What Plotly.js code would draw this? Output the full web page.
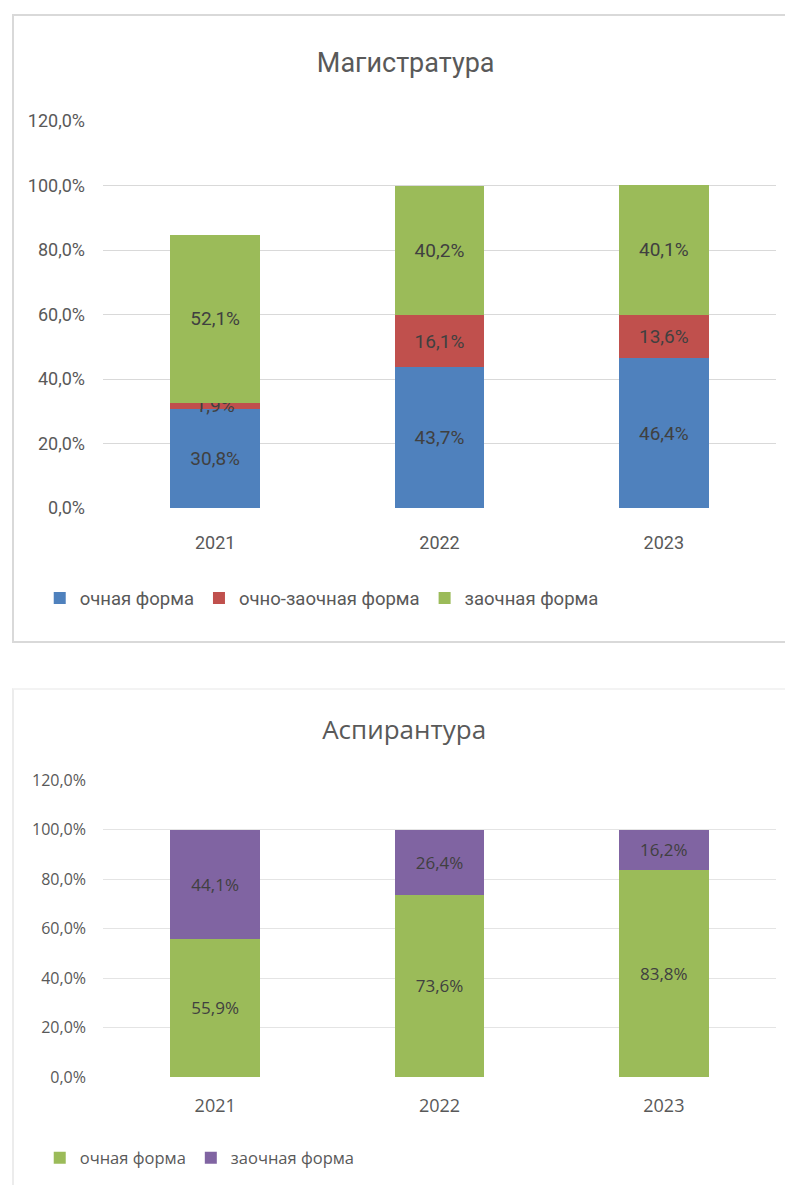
<!DOCTYPE html>
<html>
<head>
<meta charset="utf-8">
<script src="https://cdn.plot.ly/plotly-3.0.1.min.js"></script>
<style>
  html, body { margin:0; padding:0; background:#fff; }
  body { width:785px; height:1185px; overflow:hidden; position:relative; }
  #box1 { position:absolute; left:12px; top:14px; width:790px; height:625px; border:2px solid #d9d9d9; border-right:none; }
  #box2 { position:absolute; left:12px; top:688px; width:790px; height:520px; border:2px solid #ececec; border-right:none; border-top-color:#f3f3f3; }
  #chart1 { position:absolute; left:0; top:0; width:771px; height:625px; }
  #chart2 { position:absolute; left:0; top:0; width:771px; height:495px; }
</style>
</head>
<body>
<div id="box1"><div id="chart1"></div></div>
<div id="box2"><div id="chart2"></div></div>
<script>
// ---- Data: Магистратура ----
const years = ['2021', '2022', '2023'];
const magSeriesNames = ['очная форма', 'очно-заочная форма', 'заочная форма'];
const magFullTime = [30.8, 43.7, 46.4];
const magPartTime = [1.9, 16.1, 13.6];
const magExtramural = [52.1, 40.2, 40.1];

// ---- Data: Аспирантура ----
const aspSeriesNames = ['очная форма', 'заочная форма'];
const aspFullTime = [55.9, 73.6, 83.8];
const aspExtramural = [44.1, 26.4, 16.2];

const yTicks = [0, 20, 40, 60, 80, 100, 120];
const yTickText = yTicks.map(v => v.toFixed(1).replace('.', ',') + '%');

const BLUE = '#4F81BD', RED = '#C0504D', GREEN = '#9BBB59', PURPLE = '#8064A2';
const NARROW = 'Roboto, "Liberation Sans Narrow", sans-serif';
const WIDE = '"Open Sans", "Noto Sans", sans-serif';

function barTrace(name, ys, color, font, size) {
  return {
    type: 'bar', name: name, x: years, y: ys,
    marker: { color: color, line: { width: 0 } },
    texttemplate: '%{y:.1f}%', textposition: 'inside',
    insidetextanchor: 'middle', textangle: 0, constraintext: 'none',
    textfont: { family: font, size: size, color: '#404040' },
    hoverinfo: 'skip'
  };
}

const cfg = { displayModeBar: false, staticPlot: true };

// Chart 1
const traces1 = [
  barTrace(magSeriesNames[0], magFullTime, BLUE, NARROW, 19),
  barTrace(magSeriesNames[1], magPartTime, RED, NARROW, 19),
  barTrace(magSeriesNames[2], magExtramural, GREEN, NARROW, 19)
];
const layout1 = {
  width: 771, height: 625,
  margin: { l: 89, r: 9, t: 105, b: 133 },
  paper_bgcolor: 'rgba(0,0,0,0)', plot_bgcolor: 'rgba(0,0,0,0)',
  barmode: 'stack', bargap: 0.6,
  separators: ', ',
  font: { family: NARROW, color: '#595959', size: 18 },
  title: { text: 'Магистратура', font: { family: NARROW, size: 27, color: '#595959' },
           x: 0.508, xref: 'container', xanchor: 'center', y: 0.925, yref: 'container', yanchor: 'middle' },
  xaxis: { type: 'category', showgrid: false, zeroline: false, showline: false, ticks: '',
           tickfont: { family: NARROW, size: 18, color: '#595959' }, ticklabelstandoff: 22 },
  yaxis: { range: [0, 120], tickmode: 'array', tickvals: yTicks, ticktext: yTickText,
           showgrid: true, gridcolor: '#d9d9d9', gridwidth: 1, zeroline: false, showline: false, ticks: '',
           tickfont: { family: NARROW, size: 18, color: '#595959' }, ticklabelstandoff: 17 },
  showlegend: true,
  legend: { orientation: 'h', x: -0.094, xanchor: 'left', y: -0.185, yanchor: 'top',
            font: { family: NARROW, size: 18.5, color: '#595959' }, traceorder: 'normal', itemwidth: 30 }
};
Plotly.newPlot('chart1', traces1, layout1, cfg);

// Chart 2
const traces2 = [
  barTrace(aspSeriesNames[0], aspFullTime, GREEN, WIDE, 17),
  barTrace(aspSeriesNames[1], aspExtramural, PURPLE, WIDE, 17)
];
const layout2 = {
  width: 771, height: 495,
  margin: { l: 89, r: 9, t: 90, b: 108 },
  paper_bgcolor: 'rgba(0,0,0,0)', plot_bgcolor: 'rgba(0,0,0,0)',
  barmode: 'stack', bargap: 0.6,
  separators: ', ',
  font: { family: WIDE, color: '#595959', size: 16 },
  title: { text: 'Аспирантура', font: { family: WIDE, size: 26, color: '#595959' },
           x: 0.506, xref: 'container', xanchor: 'center', y: 0.919, yref: 'container', yanchor: 'middle' },
  xaxis: { type: 'category', showgrid: false, zeroline: false, showline: false, ticks: '',
           tickfont: { family: WIDE, size: 18, color: '#595959' }, ticklabelstandoff: 16 },
  yaxis: { range: [0, 120], tickmode: 'array', tickvals: yTicks, ticktext: yTickText,
           showgrid: true, gridcolor: '#e4e4e4', gridwidth: 1, zeroline: false, showline: false, ticks: '',
           tickfont: { family: WIDE, size: 16, color: '#595959' }, ticklabelstandoff: 16 },
  showlegend: true,
  legend: { orientation: 'h', x: -0.094, xanchor: 'left', y: -0.2135, yanchor: 'top',
            font: { family: WIDE, size: 16.5, color: '#595959' }, traceorder: 'normal', itemwidth: 30 }
};
Plotly.newPlot('chart2', traces2, layout2, cfg);
</script>
</body>
</html>
